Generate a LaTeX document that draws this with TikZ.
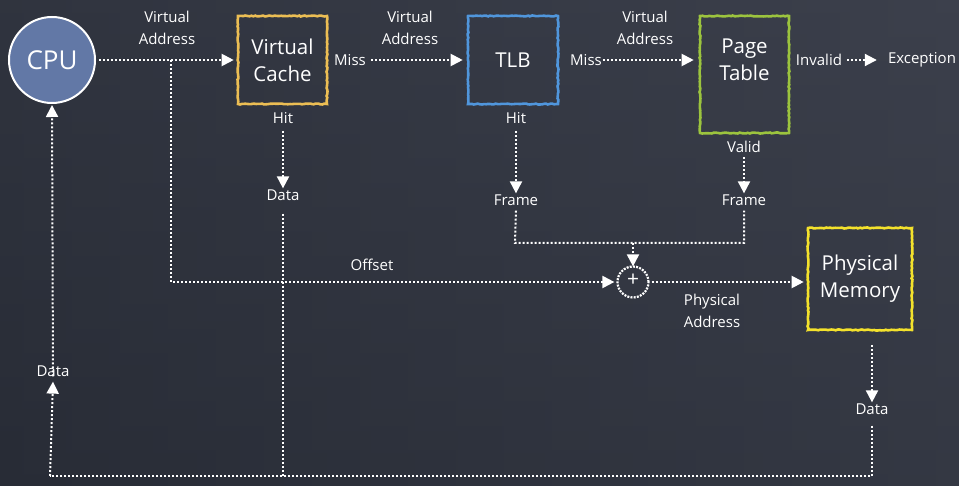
\documentclass[tikz,border=0pt]{standalone}
\usepackage{fontspec}
\setmainfont{Open Sans}
\usetikzlibrary{arrows.meta,decorations.pathmorphing}
\definecolor{board}{RGB}{40,44,54}
\definecolor{boardhi}{RGB}{60,64,76}
\definecolor{cpufill}{RGB}{98,120,166}
\definecolor{vcline}{RGB}{236,190,84}
\definecolor{tlbline}{RGB}{80,150,220}
\definecolor{ptline}{RGB}{156,196,62}
\definecolor{pmline}{RGB}{244,226,44}
\tikzset{
  lbl/.style={text=white, font=\fontsize{15}{22}\selectfont, align=center, inner sep=1pt},
  boxtext/.style={text=white, font=\fontsize{20.5}{27}\selectfont, align=center, inner sep=0pt},
  chalkbox/.style={draw, line width=2.6pt, inner sep=0pt,
    decorate, decoration={random steps, segment length=2pt, amplitude=0.5pt}},
  flow/.style={draw=white, line width=2pt, dash pattern=on 2pt off 2pt},
  flowarrow/.style={flow, -{Triangle[length=12pt,width=12pt,fill=white]}},
}
\begin{document}
\begin{tikzpicture}[x=1pt,y=-1pt]
  % chalkboard
  \shade[left color=board, right color=boardhi] (0,0) rectangle (959,486);
  \shade[top color=boardhi, bottom color=board, opacity=0.4] (0,0) rectangle (959,486);
  \useasboundingbox (0,0) rectangle (959,486);

  % units
  \node[circle, draw=white, line width=2pt, fill=cpufill,
        minimum size=86pt, inner sep=0pt,
        text=white, font=\fontsize{26}{30}\selectfont] (cpu) at (52,60) {CPU};
  \node[chalkbox, draw=vcline, minimum width=89pt, minimum height=88pt] (vc) at (282.5,60) {};
  \node[boxtext] at (282.5,60) {Virtual\\Cache};
  \node[chalkbox, draw=tlbline, minimum width=90pt, minimum height=88pt] (tlb) at (513,60) {};
  \node[boxtext] at (513,60) {TLB};
  \node[chalkbox, draw=ptline, minimum width=89pt, minimum height=117pt] (pt) at (744.5,74.5) {};
  \node[boxtext] at (744.5,60) {Page\\Table};
  \node[chalkbox, draw=pmline, minimum width=104pt, minimum height=102pt] (pm) at (860,279) {};
  \node[boxtext] at (860,279) {Physical\\Memory};
  \node[circle, draw=white, line width=2.2pt, dash pattern=on 2pt off 1.2pt, minimum size=31pt,
        inner sep=0pt] (plus) at (633,282) {};
  \node[text=white, font=\fontsize{21}{22}\selectfont, inner sep=0pt] at (633,280.5) {+};

  % labels
  \node[lbl] (va1) at (167,28) {Virtual\\Address};
  \node[lbl] (miss1) at (350,60) {Miss};
  \node[lbl] (va2) at (410,28) {Virtual\\Address};
  \node[lbl] (miss2) at (586,60) {Miss};
  \node[lbl] (va3) at (645,28) {Virtual\\Address};
  \node[lbl] (inval) at (819,60) {Invalid};
  \node[lbl] (exc) at (922,60) {Exception};
  \node[lbl] (hit1) at (283,118) {Hit};
  \node[lbl] (data1) at (283,195) {Data};
  \node[lbl] (hit2) at (516,118) {Hit};
  \node[lbl] (frame1) at (516,200) {Frame};
  \node[lbl] (valid) at (744,147) {Valid};
  \node[lbl] (frame2) at (744,200) {Frame};
  \node[lbl] (offset) at (372,265) {Offset};
  \node[lbl] (pa) at (712,311) {Physical\\Address};
  \node[lbl] (data3) at (872,409) {Data};
  \node[lbl] (data4) at (53,371) {Data};

  % junction points
  \coordinate (split) at (171,60);
  \coordinate (offturn) at (171,282);
  \coordinate (fl) at (515,243);
  \coordinate (fr) at (744,243);
  \coordinate (fm) at (633,243);
  \coordinate (pmout) at (872,345);
  \coordinate (br) at (872,476);
  \coordinate (bm) at (283,476);
  \coordinate (bl) at (50,476);

  % address path
  \draw[flowarrow] (cpu.east) ++(3,0) -- ([xshift=-3pt]vc.west);
  \draw[flowarrow] (split) -- (offturn) -- ([xshift=-2pt]plus.west);
  \draw[flowarrow] (miss1.east) ++(4,0) -- ([xshift=-4pt]tlb.west);
  \draw[flowarrow] (miss2.east) -- ([xshift=-5pt]pt.west |- miss2.east);
  \draw[flowarrow] (inval.east) ++(4,0) -- ([xshift=-10pt]exc.west);

  % hit / valid outcomes
  \draw[flowarrow] ([yshift=-6pt]hit1.south) -- (data1.north);
  \draw[flowarrow] ([yshift=-6pt]hit2.south) -- (frame1.north);
  \draw[flowarrow] ([yshift=-3pt]valid.south) -- (frame2.north);

  % frame joins the offset
  \draw[flow] ([yshift=-4pt]frame1.south) -- (fl) -- (fr) -- ([yshift=-4pt]frame2.south);
  \draw[flowarrow] (fm) -- ([yshift=-1pt]plus.north);
  \draw[flowarrow] ([xshift=2pt]plus.east) -- ([xshift=-3pt]pm.west |- plus.east);

  % data back to the CPU
  \draw[flowarrow] (pmout) -- (data3.north);
  \draw[flow] ([yshift=-10pt]data3.south) -- (br) -- (bl);
  \draw[flow] ([yshift=-12pt]data1.south) -- (bm);
  \draw[flowarrow] (bl) -- ([yshift=-4pt]data4.south);
  \draw[flowarrow] ([yshift=-12pt]data4.north) -- ([yshift=-1pt]cpu.south);
\end{tikzpicture}
\end{document}
